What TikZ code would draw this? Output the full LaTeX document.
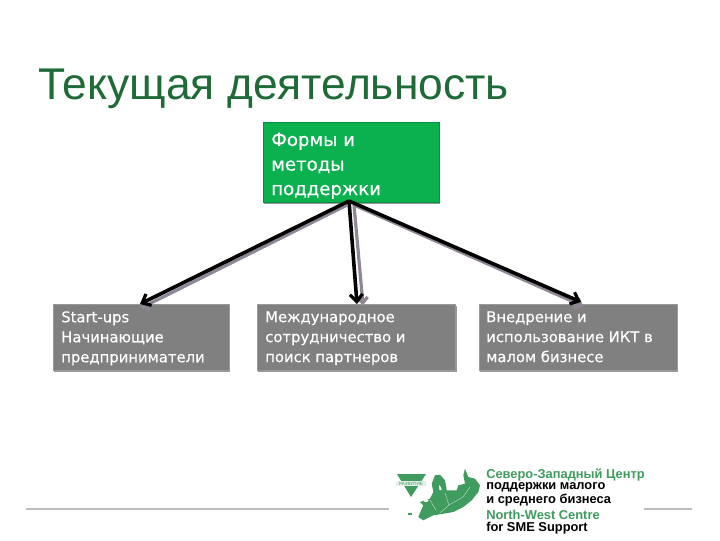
\documentclass[tikz,border=0pt]{standalone}
\usepackage{fontspec}
\setmainfont{Liberation Sans}
\newfontfamily\boxfont[FakeBold=0.4]{DejaVu Sans}
\usetikzlibrary{arrows.meta,shadows}
\definecolor{titlegreen}{HTML}{1E6B38}
\definecolor{boxgreen}{HTML}{0BB14F}
\definecolor{boxgray}{HTML}{808080}
\definecolor{logogreen}{HTML}{3F9C5E}
\definecolor{arrowgray}{HTML}{8F8794}
\definecolor{rulegray}{HTML}{BDBDBD}
\tikzset{
  x=0.75pt,y=-0.75pt,
  boxbase/.style={rectangle,anchor=north west,inner sep=0pt,outer sep=0pt,
     drop shadow={shadow xshift=0.8pt,shadow yshift=-1.4pt,opacity=.4,fill=black}},
  graybox/.style={boxbase,fill=boxgray,draw=boxgray!80!white,line width=.7pt},
  greenbox/.style={boxbase,fill=boxgreen,draw=boxgreen!80!black,line width=.7pt},
  boxtext/.style={anchor=north west,inner sep=0pt,align=left,text=white,font=\boxfont\fontsize{11.1}{15}\selectfont},
  bigtext/.style={boxtext,font=\boxfont\fontsize{13.6}{18.4}\selectfont},
  link/.style={-{Straight Barb[length=5.5pt,width=9.5pt,line width=2.4pt]},line width=2.7pt,black},
  linkshade/.style={-{Straight Barb[length=4pt,width=8pt,line width=2.4pt]},line width=2.4pt,arrowgray},
  logotext/.style={anchor=base west,inner sep=0pt,font=\fontsize{9.65}{10}\selectfont\bfseries},
  rulestyle/.style={rulegray,line width=1pt}
}
\begin{document}
\begin{tikzpicture}
\useasboundingbox (0,0) rectangle (720,540);
\fill[white] (0,0) rectangle (720,540);
% title
\node[anchor=base west,inner sep=0pt,text=titlegreen,font=\fontsize{33.3}{38}\selectfont] (title) at (38,99) {Текущая деятельность};
% rules
\coordinate (r1) at (26,509); \coordinate (r2) at (389,509);
\coordinate (r3) at (644,509); \coordinate (r4) at (692,509);
\draw[rulestyle] (r1) -- (r2);
\draw[rulestyle] (r3) -- (r4);
% boxes
\node[greenbox,minimum width=132pt,minimum height=60pt] (top) at (263,122) {};
\node[graybox,minimum width=132pt,minimum height=49.5pt] (a) at (53,304) {};
\node[graybox,minimum width=149pt,minimum height=49.5pt] (b) at (257,304) {};
\node[graybox,minimum width=148.5pt,minimum height=49.5pt] (c) at (479,304) {};
\node[bigtext] (toptext) at (271,132.5) {Формы и\\методы\\поддержки};
\node[boxtext] (atext) at (61,311) {Start-ups\\Начинающие\\предприниматели};
\node[boxtext] (btext) at (265,311) {Международное\\сотрудничество и\\поиск партнеров};
\node[boxtext] (ctext) at (486,311) {Внедрение и\\использование ИКТ в\\малом бизнесе};
% connector end points
\coordinate (s) at (349,201);
\coordinate (sa) at (347,205); \coordinate (ea) at (141,308);
\coordinate (sb) at (354,205); \coordinate (eb) at (363,305);
\coordinate (sc) at (354,205); \coordinate (ec) at (583,306);
\coordinate (ta) at (140,304); \coordinate (tb) at (357,304); \coordinate (tc) at (581,302);
% shaded connectors
\draw[linkshade] (sa) -- (ea);
\draw[linkshade] (sb) -- (eb);
\draw[linkshade] (sc) -- (ec);
% black connectors
\draw[link] (s) -- (ta);
\draw[link] (s) -- (tb);
\draw[link] (s) -- (tc);
% logo
\fill[logogreen] (397,474) -- (426,474) -- (411,497) -- cycle;
\fill[white!85!logogreen] (396,481) rectangle (426,486);
\node[anchor=center,inner sep=0pt,text=logogreen,font=\fontsize{3.4}{3.4}\selectfont] (logomark) at (411,483.5) {РАЗВИТИЕ};
\fill[logogreen] (435,475.3) -- (440,474.7) -- (445,480.3) -- (446.7,490.3) -- (456.7,490.3) -- (458.3,485.3) -- (465,483.7) -- (463.3,475.3) -- (465,468.7) -- (468.3,477) -- (475,478.7) -- (480,485.3) -- (478.3,492) -- (471.7,500.3) -- (463.3,507) -- (453.3,512) -- (443.3,513.7) -- (433.3,515.3) -- (423.3,520.3) -- (418.3,517) -- (423.3,505.3) -- (420,502) -- (430,498.7) -- (433.3,492) -- (431.7,483.7) -- cycle;
\fill[logogreen] (408,513) rectangle (412,515);
\fill[white] (426,500.5) ellipse (2.5 and 1.5);
\fill[white] (439,485) -- (441,487) -- (441.5,490) -- (439.5,490) -- cycle;
\draw[white!70!logogreen,line width=.3pt] (445,493) -- (449,505) -- (440,513);
\draw[white!70!logogreen,line width=.3pt] (449,505) -- (463,497) -- (470,487);
\draw[white!70!logogreen,line width=.3pt] (430,500) -- (436,510);
\node[logotext,text=logogreen] (l1) at (486,478) {Северо-Западный Центр};
\node[logotext,text=black] (l2) at (486,489.5) {поддержки малого};
\node[logotext,text=black] (l3) at (486,503) {и среднего бизнеса};
\node[logotext,text=logogreen] (l4) at (486,519) {North-West Centre};
\node[logotext,text=black] (l5) at (486,531.5) {for SME Support};
\end{tikzpicture}
\end{document}
